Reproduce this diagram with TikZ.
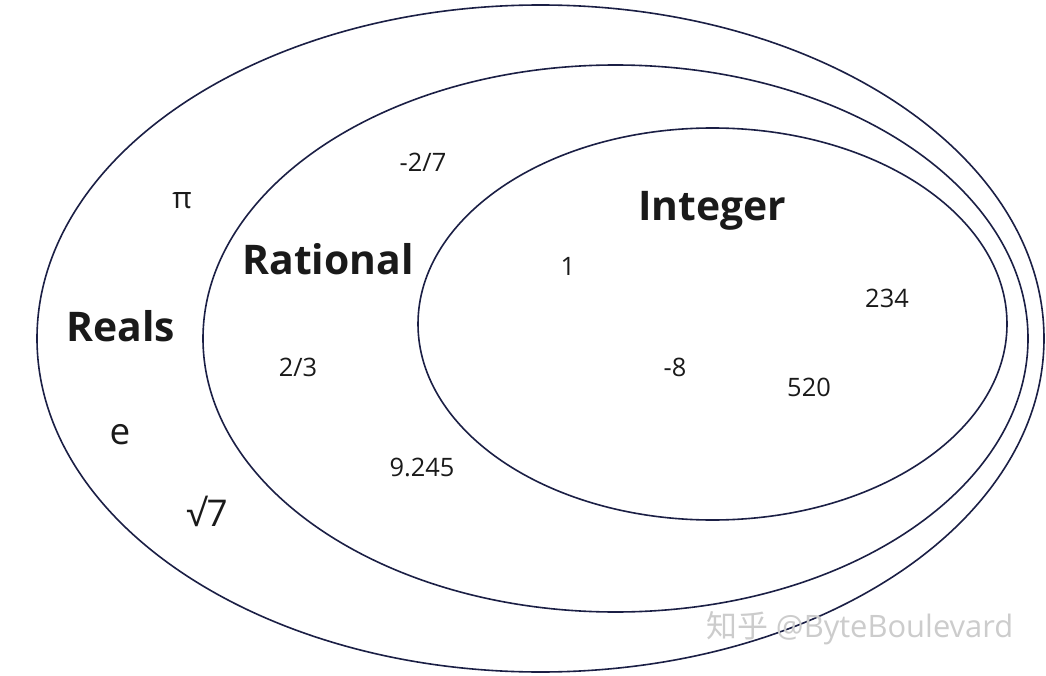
\documentclass[tikz,border=0pt]{standalone}
\usepackage{fontspec}
\setmainfont{Open Sans}
\newfontfamily\cjk{Noto Sans CJK SC}
\definecolor{ring}{HTML}{1B1F45}
\definecolor{ink}{HTML}{1A1A1A}
\definecolor{wm}{HTML}{CCCCCC}
\begin{document}
\begin{tikzpicture}[x=1bp,y=-1bp,
  ringline/.style={draw=ring,line width=1.6bp},
  setlabel/.style={font=\fontsize{41}{44}\selectfont\bfseries,text=ink,inner sep=0},
  member/.style={font=\fontsize{25.5}{28}\selectfont,text=ink,inner sep=0},
  bigmember/.style={font=\fontsize{37}{40}\selectfont,text=ink,inner sep=0}]
\useasboundingbox[fill=white] (0,0) rectangle (1046,676);
\draw[ringline] (540.5,338.5) ellipse [x radius=503.5,y radius=333.5];
\draw[ringline] (615.5,338.5) ellipse [x radius=412.5,y radius=273.5];
\draw[ringline] (712.5,324) ellipse [x radius=294.5,y radius=196];
\node[setlabel] (reals) at (121,326) {Reals};
\node[setlabel] (rational) at (328,259) {Rational};
\node[setlabel] (integer) at (712,211) {Integer};
\node[member,font=\fontsize{30}{32}\selectfont] (pi) at (182,201) {π};
\node[member] (m27) at (423,162) {-2/7};
\node[member] (t23) at (298,367) {2/3};
\node[member] (n9245) at (422,467) {9.245};
\node[bigmember] (e) at (120,435) {e};
\node[bigmember] (sq7) at (207,511) {√7};
\node[member] (one) at (568,266) {1};
\node[member] (n234) at (887,298) {234};
\node[member] (m8) at (675,367) {-8};
\node[member] (n520) at (809,387) {520};
\node[text=wm,inner sep=0,anchor=west] (wmark) at (706,628) {{\cjk\fontsize{31}{33}\selectfont 知乎}\fontsize{31}{33}\selectfont\ @ByteBoulevard};
\end{tikzpicture}
\end{document}
